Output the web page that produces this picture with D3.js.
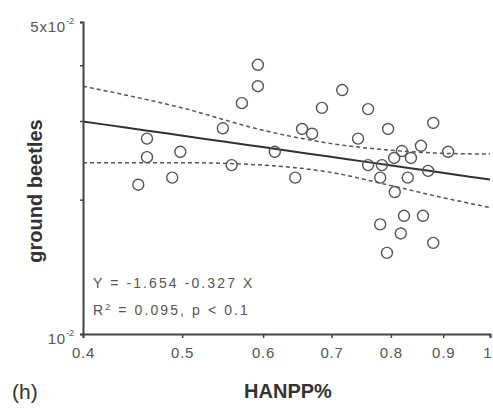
<!DOCTYPE html>
<html>
<head>
<meta charset="utf-8">
<script src="https://cdn.jsdelivr.net/npm/d3@7"></script>
<style>
  body { margin: 0; background: #fff; }
  svg { display: block; font-family: "Liberation Sans", Arial, sans-serif; }
</style>
</head>
<body>
<div id="chart"></div>
<script>
// HANPP% vs ground beetles (both log axes)
const hanpp = [0.593, 0.593, 0.572, 0.717, 0.685, 0.760, 0.880, 0.795, 0.548, 0.655,
               0.670, 0.743, 0.462, 0.462, 0.498, 0.453, 0.489, 0.559, 0.616, 0.645,
               0.856, 0.910, 0.820, 0.806, 0.837, 0.760, 0.784, 0.870, 0.831, 0.781,
               0.807, 0.824, 0.860, 0.781, 0.818, 0.880, 0.793];
const beetles = [0.0401, 0.0359, 0.0329, 0.0352, 0.0321, 0.0319, 0.0297, 0.0288, 0.0289, 0.0288,
                 0.0281, 0.0274, 0.0274, 0.0249, 0.0256, 0.0216, 0.0224, 0.0239, 0.0256, 0.0224,
                 0.0264, 0.0256, 0.0257, 0.0248, 0.0248, 0.0239, 0.0239, 0.0232, 0.0224, 0.0224,
                 0.0208, 0.0184, 0.0184, 0.0176, 0.0168, 0.0160, 0.0152];

// fitted line log10(Y) = a + b*log10(X), as printed on the chart
const fitA = -1.654, fitB = -0.327;

// 95% band
const bandX = [0.4, 0.5, 0.6, 0.7, 0.8, 0.9, 1.0];
const bandUpper = [0.0359, 0.0321, 0.0286, 0.0267, 0.0258, 0.0254, 0.0253];
const bandLower = [0.0242, 0.0242, 0.0239, 0.0230, 0.0215, 0.0202, 0.0192];

const xTicks = [0.4, 0.5, 0.6, 0.7, 0.8, 0.9, 1];
const yTicks = [0.01, 0.02, 0.03, 0.04, 0.05];

const width = 493, height = 410;
const plotL = 83, plotR = 490, plotT = 22, plotB = 334;

const svg = d3.select("#chart").append("svg")
    .attr("width", width)
    .attr("height", height);

const x = d3.scaleLog().domain([0.4, 1]).range([plotL, plotR]);
const y = d3.scaleLog().domain([0.01, 0.05]).range([plotB, plotT]);

// band (dashed)
const bandLine = d3.line().curve(d3.curveMonotoneX).x(d => x(d[0])).y(d => y(d[1]));
[bandUpper, bandLower].forEach(arr => {
  svg.append("path")
    .attr("d", bandLine(bandX.map((v, i) => [v, arr[i]])))
    .attr("fill", "none")
    .attr("stroke", "#555")
    .attr("stroke-width", 1.5)
    .attr("stroke-dasharray", "4,3");
});

// regression line
const fitXs = d3.range(0, 21).map(i => 0.4 * Math.pow(2.5, i / 20));
svg.append("path")
  .attr("d", d3.line().x(d => x(d)).y(d => y(Math.pow(10, fitA + fitB * Math.log10(d))))(fitXs))
  .attr("fill", "none")
  .attr("stroke", "#333")
  .attr("stroke-width", 2);

// points
svg.selectAll("circle.pt")
  .data(hanpp.map((v, i) => [v, beetles[i]]))
  .join("circle")
  .attr("class", "pt")
  .attr("cx", d => x(d[0]))
  .attr("cy", d => y(d[1]))
  .attr("r", 5.5)
  .attr("fill", "none")
  .attr("stroke", "#555")
  .attr("stroke-width", 1.4);

// axes
const xAxis = svg.append("g")
  .attr("transform", `translate(0,${plotB})`)
  .call(d3.axisBottom(x).tickValues(xTicks).tickSize(4).tickFormat(d3.format("")));
xAxis.select(".domain").attr("stroke", "#444").attr("stroke-width", 2);
xAxis.selectAll(".tick line").attr("stroke", "#444").attr("stroke-width", 1.5);
xAxis.selectAll(".tick text")
  .attr("y", 13)
  .attr("font-size", 15)
  .attr("letter-spacing", 0.8)
  .attr("font-family", "Liberation Sans, Arial, sans-serif")
  .attr("fill", "#555");
// keep the last label inside the page
xAxis.selectAll(".tick text").filter(d => d === 1)
  .attr("text-anchor", "end")
  .attr("x", 2);

const yAxis = svg.append("g")
  .attr("transform", `translate(${plotL},0)`)
  .call(d3.axisLeft(y).tickValues(yTicks).tickSize(3).tickFormat(""));
yAxis.select(".domain").attr("stroke", "#444").attr("stroke-width", 2);
yAxis.selectAll(".tick line").attr("stroke", "#444").attr("stroke-width", 1.5);

function powLabel(val, base, exp) {
  const t = svg.append("text")
    .attr("x", plotL - 9)
    .attr("y", y(val) + 10)
    .attr("text-anchor", "end")
    .attr("font-size", 15)
    .attr("letter-spacing", 0.8)
    .attr("fill", "#555")
    .text(base);
  t.append("tspan").attr("dy", -8).attr("font-size", 9).attr("letter-spacing", 0).text(exp);
}
powLabel(0.05, "5x10", "-2");
powLabel(0.01, "10", "-2");

// axis titles
svg.append("text")
  .attr("x", 288).attr("y", 398)
  .attr("text-anchor", "middle")
  .attr("font-size", 20).attr("font-weight", "bold")
  .attr("fill", "#333")
  .text("HANPP%");

svg.append("text")
  .attr("transform", `translate(42,191) rotate(-90)`)
  .attr("text-anchor", "middle")
  .attr("font-size", 20).attr("font-weight", "bold")
  .attr("fill", "#333")
  .text("ground beetles");

svg.append("text")
  .attr("x", 12).attr("y", 399)
  .attr("font-size", 21)
  .attr("fill", "#333")
  .text("(h)");

// equation
svg.append("text")
  .attr("x", 93).attr("y", 288)
  .attr("font-size", 14).attr("letter-spacing", 2.1)
  .attr("fill", "#555")
  .text("Y = -1.654 -0.327 X");

const r2 = svg.append("text")
  .attr("x", 93).attr("y", 315)
  .attr("font-size", 14).attr("letter-spacing", 2.1)
  .attr("fill", "#555")
  .text("R");
r2.append("tspan").attr("dy", -5).attr("font-size", 9).text("2");
r2.append("tspan").attr("dy", 5).text(" = 0.095, p < 0.1");
</script>
</body>
</html>
